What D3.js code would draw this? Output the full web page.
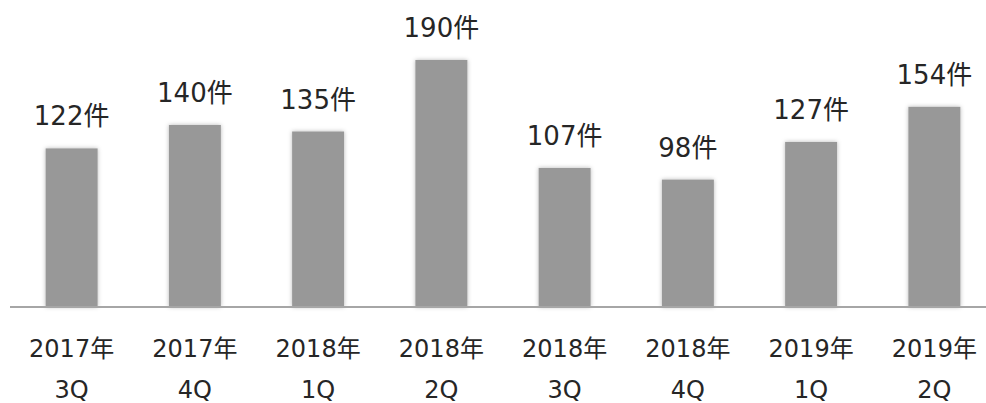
<!DOCTYPE html>
<html>
<head>
<meta charset="utf-8">
<script src="https://cdn.jsdelivr.net/npm/d3@7"></script>
<style>
  html, body { margin: 0; padding: 0; background: #fff; }
  svg { display: block; }
  text { font-family: "DejaVu Sans", "Noto Sans CJK JP", sans-serif; fill: #262626; }
</style>
</head>
<body>
<svg id="chart" width="986" height="403"></svg>
<script>
// Quarterly case counts
const yearLabels = ["2017年", "2017年", "2018年", "2018年", "2018年", "2018年", "2019年", "2019年"];
const quarterLabels = ["3Q", "4Q", "1Q", "2Q", "3Q", "4Q", "1Q", "2Q"];
const counts = [122, 140, 135, 190, 107, 98, 127, 154];
const unit = "件";

const width = 986, height = 403;
const baseline = 307;

const svg = d3.select("#chart");

// soft grey shadow around each bar
const defs = svg.append("defs");
const f = defs.append("filter").attr("id", "barShadow")
  .attr("x", "-30%").attr("y", "-10%").attr("width", "160%").attr("height", "120%");
f.append("feDropShadow").attr("dx", 0).attr("dy", 0).attr("stdDeviation", 2.2)
  .attr("flood-color", "#000").attr("flood-opacity", 0.28);

const idx = counts.map((_, i) => i);
const x = d3.scaleBand().domain(idx).range([10, 996]).paddingInner(0.578).paddingOuter(0.289);
const y = d3.scaleLinear().domain([0, 100]).range([baseline, baseline - 130]);

// bars
svg.append("g").selectAll("rect").data(idx).join("rect")
  .attr("x", i => x(i))
  .attr("y", i => y(counts[i]))
  .attr("width", x.bandwidth())
  .attr("height", i => baseline - y(counts[i]))
  .attr("fill", "#989898")
  .attr("filter", "url(#barShadow)");

// baseline axis
const axis = d3.axisBottom(x).tickSize(0).tickFormat("");
const gAxis = svg.append("g").attr("transform", `translate(0,${baseline})`).call(axis);
gAxis.select(".domain").attr("stroke", "#a6a6a6").attr("stroke-width", 2)
  .attr("d", "M10,0H986");

// value labels
svg.append("g").selectAll("text").data(idx).join("text")
  .attr("x", i => x(i) + x.bandwidth() / 2)
  .attr("y", i => y(counts[i]) - 23)
  .attr("text-anchor", "middle")
  .attr("font-size", 26)
  .text(i => counts[i] + unit);

// category labels (two lines)
const cat = svg.append("g").selectAll("text").data(idx).join("text")
  .attr("text-anchor", "middle")
  .attr("font-size", 24);
cat.append("tspan")
  .attr("x", i => x(i) + x.bandwidth() / 2)
  .attr("y", 357)
  .text(i => yearLabels[i]);
cat.append("tspan")
  .attr("x", i => x(i) + x.bandwidth() / 2)
  .attr("y", 398)
  .text(i => quarterLabels[i]);
</script>
</body>
</html>
